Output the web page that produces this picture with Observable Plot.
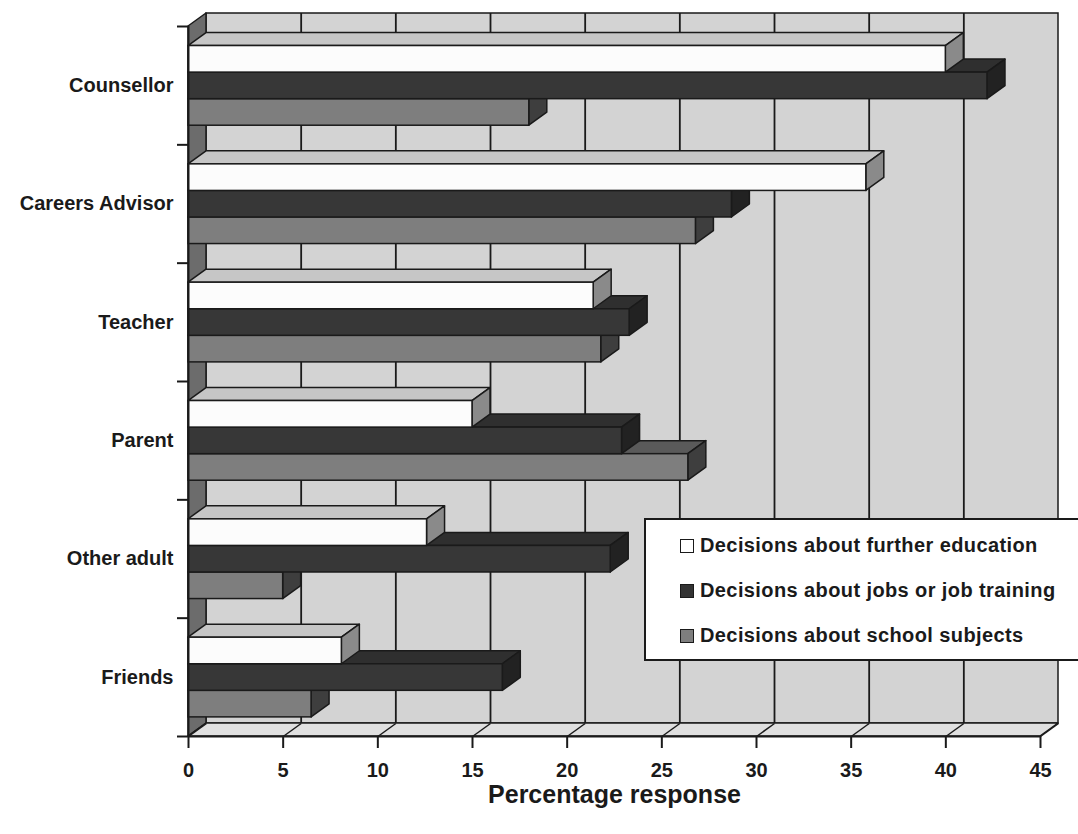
<!DOCTYPE html>
<html>
<head>
<meta charset="utf-8">
<script src="https://cdn.jsdelivr.net/npm/d3@7"></script>
<script src="https://cdn.jsdelivr.net/npm/@observablehq/plot@0.6"></script>
<style>
  html, body { margin: 0; padding: 0; background: #ffffff; }
  #wrap { position: relative; width: 1078px; height: 834px; overflow: hidden; font-family: "Liberation Sans", Arial, Helvetica, sans-serif; }
  #legend { position: absolute; left: 644px; top: 518px; width: 460px; height: 143px; background: #ffffff; border: 2px solid #1a1a1a; box-sizing: border-box; }
  .item { position: absolute; left: 34px; display: flex; align-items: center; font-weight: bold; font-size: 20px; letter-spacing: 0.4px; color: #1a1a1a; white-space: nowrap; }
  .sw { width: 12px; height: 12px; border: 1.5px solid #1a1a1a; margin-right: 6px; }
</style>
</head>
<body>
<div id="wrap"></div>
<script>
// ---- data ----
const categories = ["Counsellor", "Careers Advisor", "Teacher", "Parent", "Other adult", "Friends"];
const seriesNames = [
  "Decisions about further education",
  "Decisions about jobs or job training",
  "Decisions about school subjects"
];
const furtherEducation = [40.0, 35.8, 21.4, 15.0, 12.6, 8.1];
const jobsTraining     = [42.2, 28.7, 23.3, 22.9, 22.3, 16.6];
const schoolSubjects   = [18.0, 26.8, 21.8, 26.4, 5.0, 6.5];
const xTicks = [0, 5, 10, 15, 20, 25, 30, 35, 40, 45];

// ---- layout / style ----
const W = 1078, H = 834;
const ML = 188, MR = 38, MT = 26, MB = 98;
const pxPerX = (W - ML - MR) / 45;
const pxPerY = (H - MT - MB) / categories.length;
const DX = 18 / pxPerX;   // depth offset in x units
const DY = 13 / pxPerY;   // depth offset in y units (up = smaller)
const PAD = 0.165, BH = 0.2245;
const INK = "#1a1a1a";

const seriesValues = [furtherEducation, jobsTraining, schoolSubjects];
const faceColors = [
  {front: "#fcfcfc", top: "#c6c6c6", side: "#8a8a8a"},
  {front: "#373737", top: "#2f2f2f", side: "#222222"},
  {front: "#7e7e7e", top: "#5a5a5a", side: "#3e3e3e"}
];

const nCat = categories.length;
const xMax = 45;

function bars(s) {
  return seriesValues[s].map((v, i) => {
    const top = i + PAD + s * BH;
    return {id: `${s}-${i}`, v, top, bottom: top + BH};
  });
}
function topFaces(s) {
  return bars(s).flatMap(b => [
    {id: b.id, y: b.top, x1: 0, x2: b.v},
    {id: b.id, y: b.top - DY, x1: DX, x2: b.v + DX}
  ]);
}
function sideFaces(s) {
  return bars(s).flatMap(b => [
    {id: b.id, x: b.v, y1: b.bottom, y2: b.top},
    {id: b.id, x: b.v + DX, y1: b.bottom - DY, y2: b.top - DY}
  ]);
}
function seriesMarks(s) {
  const c = faceColors[s];
  return [
    Plot.areaX(topFaces(s), {y: "y", x1: "x1", x2: "x2", z: "id", fill: c.top, stroke: INK, strokeWidth: 1.5, curve: "linear"}),
    Plot.areaY(sideFaces(s), {x: "x", y1: "y1", y2: "y2", z: "id", fill: c.side, stroke: INK, strokeWidth: 1.5, curve: "linear"}),
    Plot.rect(bars(s), {x1: 0, x2: "v", y1: "top", y2: "bottom", fill: c.front, stroke: INK, strokeWidth: 1.5})
  ];
}

const wallPts = [{x: 0, y1: nCat, y2: 0}, {x: DX, y1: nCat - DY, y2: -DY}];
const floorPts = [{y: nCat, x1: 0, x2: xMax}, {y: nCat - DY, x1: DX, x2: xMax + DX}];

const chart = Plot.plot({
  width: W, height: H,
  marginLeft: ML, marginRight: MR, marginTop: MT, marginBottom: MB,
  x: {domain: [0, xMax]},
  y: {domain: [0, nCat], reverse: true},
  style: {fontFamily: "'Liberation Sans', Arial, Helvetica, sans-serif", fontWeight: "bold", fontSize: "20px", color: INK, background: "transparent"},
  marks: [
    // back wall
    Plot.rect([0], {x1: DX, x2: xMax + DX, y1: -DY, y2: nCat - DY, fill: "#d3d3d3", stroke: INK, strokeWidth: 1.5}),
    Plot.ruleX(xTicks.slice(1, -1), {x: d => d + DX, y1: -DY, y2: nCat - DY, stroke: INK, strokeWidth: 1.8}),
    // left wall
    Plot.areaY(wallPts, {x: "x", y1: "y1", y2: "y2", fill: "#6c6c6c", stroke: INK, strokeWidth: 1.5, curve: "linear"}),
    // floor
    Plot.areaX(floorPts, {y: "y", x1: "x1", x2: "x2", fill: "#e0e0e0", stroke: INK, strokeWidth: 1.5, curve: "linear"}),
    Plot.link(xTicks, {x1: d => d, y1: nCat, x2: d => d + DX, y2: nCat - DY, stroke: INK, strokeWidth: 1.5}),
    // bars: lower series first so the upper bars cover their top faces
    ...seriesMarks(2),
    ...seriesMarks(1),
    ...seriesMarks(0),
    // front edges
    Plot.ruleX([0], {y1: 0, y2: nCat, stroke: INK, strokeWidth: 2}),
    Plot.ruleY([nCat], {x1: 0, x2: xMax, stroke: INK, strokeWidth: 2}),
    // axes
    Plot.axisY(d3.range(nCat + 1), {tickSize: 11, tickFormat: () => "", strokeWidth: 2, label: null}),
    Plot.axisY(d3.range(nCat).map(i => i + 0.5), {tickSize: 0, tickPadding: 15, tickFormat: d => categories[Math.floor(d)], label: null, fontSize: 20, fontWeight: "bold"}),
    Plot.axisX(xTicks, {tickSize: 12, tickPadding: 14, strokeWidth: 2, label: null, fontSize: 20, fontWeight: "bold"}),
    Plot.text(["Percentage response"], {frameAnchor: "bottom", dy: 66, fontSize: 25, fontWeight: "bold"})
  ]
});

const wrap = document.getElementById("wrap");
wrap.appendChild(chart);

// legend (inside the plot area, as in the original)
const legend = document.createElement("div");
legend.id = "legend";
const swFill = ["#ffffff", "#333333", "#7e7e7e"];
const rowTop = [14, 59, 104];
seriesNames.forEach((name, k) => {
  const item = document.createElement("div");
  item.className = "item";
  item.style.top = rowTop[k] + "px";
  const sw = document.createElement("span");
  sw.className = "sw";
  sw.style.background = swFill[k];
  const t = document.createElement("span");
  t.textContent = name;
  item.appendChild(sw);
  item.appendChild(t);
  legend.appendChild(item);
});
wrap.appendChild(legend);
</script>
</body>
</html>
